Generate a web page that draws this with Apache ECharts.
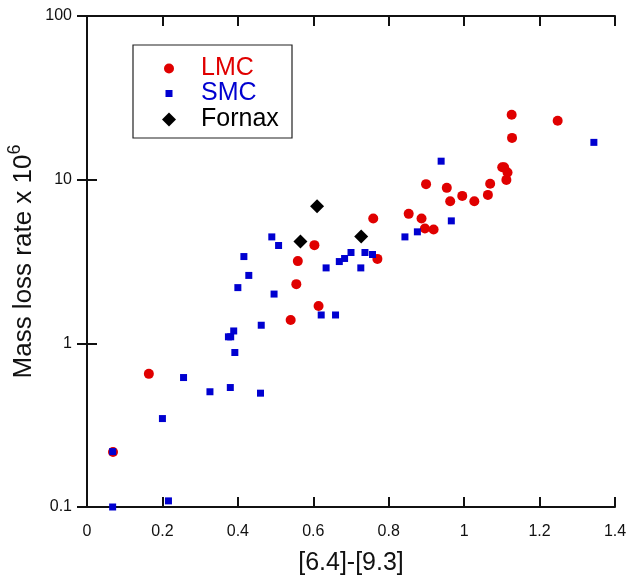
<!DOCTYPE html>
<html>
<head>
<meta charset="utf-8">
<script src="https://cdn.jsdelivr.net/npm/echarts@6/dist/echarts.min.js"></script>
<style>
html,body{margin:0;padding:0;background:#fff;}
#chart{width:635px;height:575px;}
</style>
</head>
<body>
<div id="chart"></div>
<script>
// ---- data ----
const lmcX = [0.069, 0.164, 0.540, 0.614, 0.555, 0.559, 0.603, 0.770, 0.759, 0.853, 0.887, 0.896, 0.919, 0.899, 0.954, 0.963, 0.995, 1.027, 1.063, 1.069, 1.101, 1.106, 1.115, 1.112, 1.127, 1.126, 1.248];
const lmcY = [0.217, 0.651, 1.39, 1.69, 2.30, 3.18, 3.98, 3.28, 5.79, 6.18, 5.79, 5.03, 4.96, 9.39, 8.91, 7.39, 7.96, 7.39, 8.07, 9.43, 11.9, 11.9, 11.05, 9.97, 18.0, 24.9, 22.9];

const smcX = [0.068, 0.068, 0.216, 0.200, 0.256, 0.326, 0.380, 0.460, 0.375, 0.381, 0.389, 0.392, 0.462, 0.496, 0.400, 0.429, 0.416, 0.490, 0.508, 0.621, 0.659, 0.634, 0.669, 0.683, 0.700, 0.726, 0.737, 0.757, 0.843, 0.876, 0.966, 0.939, 1.344];
const smcY = [0.218, 0.100, 0.109, 0.347, 0.618, 0.506, 0.537, 0.496, 1.096, 1.096, 1.19, 0.879, 1.29, 2.00, 2.19, 2.60, 3.39, 4.47, 3.96, 1.49, 1.49, 2.89, 3.16, 3.30, 3.59, 2.89, 3.59, 3.49, 4.47, 4.80, 5.60, 12.97, 16.9];

const fornaxX = [0.610, 0.566, 0.727];
const fornaxY = [6.89, 4.19, 4.49];

const seriesNames = ['LMC', 'SMC', 'Fornax'];
const xTitle = '[6.4]-[9.3]';
const yTitle = 'Mass loss rate x 10';
const ySup = '6';

const RED = '#e00000', BLUE = '#0000d0', BLACK = '#000000';
const FONT = '"Liberation Sans", Arial, Helvetica, sans-serif';

function zip(xs, ys) { return xs.map((x, i) => [x, ys[i]]); }

const chart = echarts.init(document.getElementById('chart'), null, {renderer: 'canvas'});

const axisLine = {show: true, lineStyle: {color: '#111', width: 2}};
const axisTick = {show: true, inside: true, length: 10, lineStyle: {color: '#111', width: 2}};

// one legend per entry so every marker keeps its own size
function legendFor(name, color, size, centerY) {
  const iconCenterX = 169, textStartX = 201;
  return {
    show: true,
    orient: 'vertical',
    left: iconCenterX - size / 2,
    top: centerY - 10,
    padding: 0,
    itemWidth: size,
    itemHeight: size,
    itemGap: 0,
    selectedMode: false,
    data: [{name: name, textStyle: {color: color}}],
    textStyle: {
      fontFamily: FONT, fontSize: 25, color: color,
      padding: [0, 0, 0, textStartX - (iconCenterX + size / 2 + 5)]
    }
  };
}

chart.setOption({
  animation: false,
  backgroundColor: '#fff',
  textStyle: {fontFamily: FONT},
  grid: {left: 87, top: 16, width: 528, height: 491, containLabel: false, outerBoundsMode: 'none'},
  graphic: [{
    type: 'rect',
    shape: {x: 133, y: 45, width: 159, height: 93},
    style: {fill: 'none', stroke: '#222', lineWidth: 1.2},
    z: 10
  }],
  legend: [
    legendFor(seriesNames[0], RED, 10, 66),
    legendFor(seriesNames[1], BLUE, 7, 91),
    legendFor(seriesNames[2], BLACK, 14, 117)
  ],
  xAxis: [{
    type: 'value', min: 0, max: 1.4, interval: 0.2, position: 'bottom',
    name: xTitle, nameLocation: 'middle', nameGap: 44, nameMoveOverlap: false,
    nameTextStyle: {fontFamily: FONT, fontSize: 25, color: '#111'},
    axisLine: axisLine, axisTick: axisTick,
    axisLabel: {show: true, fontFamily: FONT, fontSize: 16, color: '#111', margin: 17},
    splitLine: {show: false}
  }, {
    type: 'value', min: 0, max: 1.4, interval: 0.2, position: 'top',
    axisLine: axisLine, axisTick: axisTick,
    axisLabel: {show: false}, splitLine: {show: false}
  }],
  yAxis: [{
    type: 'log', logBase: 10, min: 0.1, max: 100, position: 'left',
    name: yTitle + '{sup|' + ySup + '}', nameLocation: 'middle', nameGap: 45, nameRotate: 90,
    nameMoveOverlap: false,
    nameTextStyle: {
      fontFamily: FONT, fontSize: 26, color: '#111', lineHeight: 36,
      rich: {sup: {fontFamily: FONT, fontSize: 18, color: '#111', verticalAlign: 'top', lineHeight: 36}}
    },
    axisLine: axisLine, axisTick: axisTick,
    minorTick: {show: false},
    axisLabel: {show: true, fontFamily: FONT, fontSize: 16, color: '#111', margin: 15},
    splitLine: {show: false}
  }, {
    type: 'log', logBase: 10, min: 0.1, max: 100, position: 'right',
    axisLine: axisLine, axisTick: axisTick,
    axisLabel: {show: false}, splitLine: {show: false}
  }],
  series: [{
    name: seriesNames[0], type: 'scatter', xAxisIndex: 0, yAxisIndex: 0,
    symbol: 'circle', symbolSize: 10, clip: false,
    itemStyle: {color: RED, opacity: 1},
    data: zip(lmcX, lmcY), z: 2
  }, {
    name: seriesNames[1], type: 'scatter', xAxisIndex: 0, yAxisIndex: 0,
    symbol: 'rect', symbolSize: 7, clip: false,
    itemStyle: {color: BLUE, opacity: 1},
    data: zip(smcX, smcY), z: 3
  }, {
    name: seriesNames[2], type: 'scatter', xAxisIndex: 0, yAxisIndex: 0,
    symbol: 'diamond', symbolSize: 14, clip: false,
    itemStyle: {color: BLACK, opacity: 1},
    data: zip(fornaxX, fornaxY), z: 4
  }]
});
</script>
</body>
</html>
